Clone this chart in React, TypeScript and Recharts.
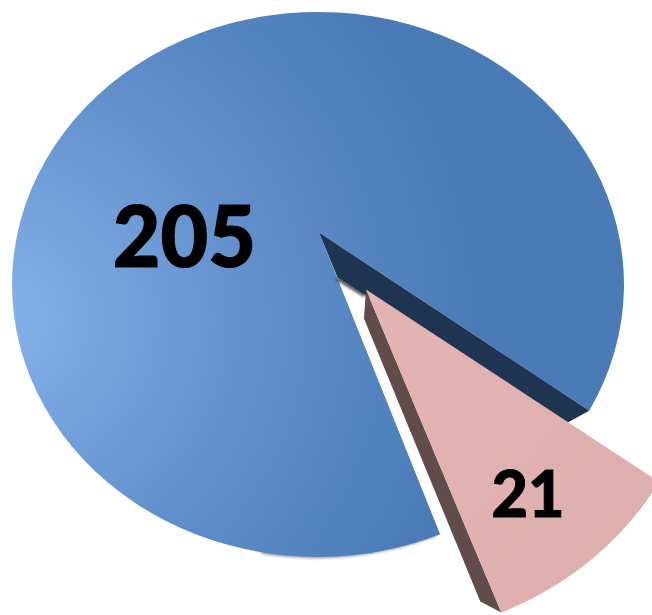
import React from "react";
import { PieChart, Pie, Cell } from "recharts";

const categories = ["A", "B"];
const seriesValues = [205, 21];
const labelOffsets = [
  { dx: -133.7, dy: -51, size: 86, width: 143, stroke: 1.2 },
  { dx: 210, dy: 207, size: 65, width: 73, stroke: 1 },
];
const tableData = categories.map((name, i) => ({ name, value: seriesValues[i] }));

const CX = 318;
const CY = 284.5;
const R = 306;
const RY_RATIO = 272.5 / 306;
const APEX = { x: 1, y: -52 };
const EXPLODE = { x: 47, y: 57 };
const PINK_SCALE = 1.09;
const WARP_CENTER = -47;
const BLUE_WARP = 0.165;
const PINK_WARP = 0.129;

const warp = (deg: number, k: number) => {
  const rad = (deg * Math.PI) / 180;
  return rad + k * Math.sin(rad - (WARP_CENTER * Math.PI) / 180);
};

const Slice = (props: any) => {
  const { cx, cy, outerRadius, startAngle, endAngle, index } = props;
  const exploded = index === 1;
  const ox = cx + (exploded ? EXPLODE.x : 0);
  const oy = cy + (exploded ? EXPLODE.y : 0);
  const s = exploded ? PINK_SCALE : 1;
  const rx = outerRadius * s;
  const ry = outerRadius * RY_RATIO * s;
  const k = exploded ? PINK_WARP : BLUE_WARP;
  const pt = (deg: number) => {
    const t = warp(deg, k);
    return { x: ox + rx * Math.cos(t), y: oy - ry * Math.sin(t) };
  };
  const a = { x: ox + APEX.x, y: oy + APEX.y };
  const p0 = pt(startAngle);
  const p1 = pt(endAngle);
  const large = Math.abs(endAngle - startAngle) > 180 ? 1 : 0;
  const d = `M${a.x},${a.y}L${p0.x},${p0.y}A${rx},${ry} 0 ${large} 0 ${p1.x},${p1.y}Z`;
  if (!exploded) {
    const shadowFrom = pt(endAngle - 30);
    return (
      <g>
        <path
          d={`M${shadowFrom.x},${shadowFrom.y}A${rx},${ry} 0 0 0 ${p1.x - 4},${p1.y + 0.5}`}
          fill="none"
          stroke="#333"
          strokeWidth={1.5}
          filter="url(#soft)"
        />
        <path d={d} fill="url(#blueGrad)" />
        <line x1={a.x + 18} y1={a.y + 46} x2={a.x + 46} y2={a.y + 63} stroke="#222" strokeWidth={3} filter="url(#soft)" />
        <path
          d={`M${a.x},${a.y}L${p0.x},${p0.y}L${p0.x - 22},${p0.y + 12}L${a.x + 18.5},${a.y + 45}Z`}
          fill="#1F3450"
        />
      </g>
    );
  }
  return (
    <g>
      <path
        d={`M${a.x},${a.y}L${a.x - 2},${a.y + 29}L${p0.x - 21},${p0.y - 11}L${p0.x},${p0.y}Z`}
        fill="#604C4A"
      />
      <path d={d} fill="url(#pinkGrad)" />
    </g>
  );
};

const renderLabel = (props: any) => {
  const { cx, cy, index, value } = props;
  const o = labelOffsets[index];
  return (
    <text
      x={cx + o.dx}
      y={cy + o.dy}
      textAnchor="middle"
      dominantBaseline="central"
      fontFamily="Lato, sans-serif"
      fontWeight={900}
      fontSize={o.size}
      textLength={o.width}
      lengthAdjust="spacingAndGlyphs"
      fill="#000"
      stroke="#000"
      strokeWidth={o.stroke}
    >
      {value}
    </text>
  );
};

export default function App() {
  return (
    <div style={{ position: "absolute", left: 0, top: 0, width: 652, height: 615, overflow: "hidden", background: "#fff" }}>
      <PieChart width={652} height={615} margin={{ top: 0, right: 0, bottom: 0, left: 0 }}>
        <defs>
          <radialGradient id="blueGrad" gradientUnits="userSpaceOnUse" cx={0} cy={320} r={480}>
            <stop offset="0%" stopColor="#86B2EA" />
            <stop offset="55%" stopColor="#5F8ECA" />
            <stop offset="100%" stopColor="#4A7BB6" />
          </radialGradient>
          <linearGradient id="pinkGrad" x1="0" y1="0" x2="1" y2="1">
            <stop offset="0%" stopColor="#E3B4B3" />
            <stop offset="100%" stopColor="#DCAEAC" />
          </linearGradient>
          <filter id="soft" x="-20%" y="-100%" width="140%" height="300%">
            <feGaussianBlur stdDeviation="1.5" />
          </filter>
        </defs>
        <Pie
          data={tableData}
          dataKey="value"
          nameKey="name"
          cx={CX}
          cy={CY}
          outerRadius={R}
          startAngle={-30.3}
          endAngle={329.7}
          stroke="none"
          shape={Slice}
          label={renderLabel}
          labelLine={false}
          isAnimationActive={false}
        >
          {tableData.map((d) => (
            <Cell key={d.name} />
          ))}
        </Pie>
      </PieChart>
    </div>
  );
}
